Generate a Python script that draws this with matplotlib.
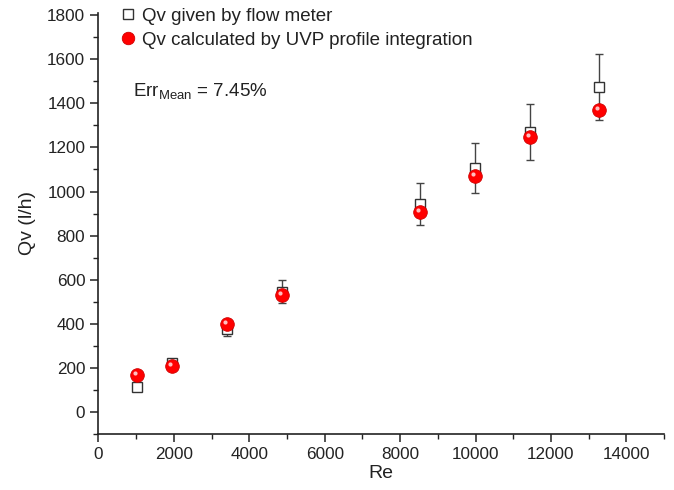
import matplotlib.pyplot as plt
import matplotlib.transforms as mtransforms
from matplotlib.lines import Line2D
from matplotlib.ticker import MultipleLocator

plt.rcParams['font.family'] = ['Liberation Sans', 'DejaVu Sans']
plt.rcParams['mathtext.fontset'] = 'custom'
plt.rcParams['mathtext.rm'] = 'Liberation Sans'

# Reynolds numbers of the runs
re_values = [1015, 1945, 3400, 4865, 8515, 9975, 11435, 13280]
# Qv given by flow meter (l/h) and its error
qv_meter = [114, 224, 376, 546, 945, 1106, 1272, 1474]
qv_meter_err = [15, 12, 33, 52, 95, 112, 127, 148]
# Qv calculated by UVP profile integration (l/h)
qv_uvp = [166, 209, 400, 530, 906, 1071, 1247, 1370]

fig = plt.figure(figsize=(6.74, 4.9), dpi=100)
ax = fig.add_axes([0.1461, 0.1143, 0.8391, 0.8592])

# flow meter: open squares with error bars
ax.errorbar(re_values, qv_meter, yerr=qv_meter_err, fmt='s', color='#444444',
            markerfacecolor='white', markeredgecolor='#333333', markersize=7.5,
            markeredgewidth=1.0, elinewidth=1.0, capsize=3, capthick=1.0,
            zorder=3)

# UVP: red "spheres" (red disc + small highlight)
ax.plot(re_values, qv_uvp, 'o', color='#ff0000', markeredgecolor='#d00000',
        markersize=9.8, markeredgewidth=0.6, zorder=4)
shift = mtransforms.ScaledTranslation(-2 / 100, 2 / 100, fig.dpi_scale_trans)
ax.plot(re_values, qv_uvp, 'o', color='white', markersize=3, alpha=0.75,
        markeredgewidth=0, zorder=5, transform=ax.transData + shift)

ax.set_xlim(0, 15000)
ax.set_ylim(-100, 1810)
ax.xaxis.set_major_locator(MultipleLocator(2000))
ax.xaxis.set_minor_locator(MultipleLocator(1000))
ax.yaxis.set_minor_locator(MultipleLocator(100))
ax.set_yticks(range(0, 1801, 200))

for side in ['top', 'right']:
    ax.spines[side].set_visible(False)
for side in ['left', 'bottom']:
    ax.spines[side].set_linewidth(1.2)
    ax.spines[side].set_color('#222222')

ax.tick_params(which='major', direction='out', length=6, width=1.1,
               labelsize=12.3, colors='#222222', labelcolor='#222222')
ax.tick_params(which='minor', direction='out', length=3.5, width=1.0,
               colors='#222222')

ax.set_xlabel('Re', fontsize=14, color='#222222', labelpad=2)
ax.set_ylabel('Qv (l/h)', fontsize=14, color='#222222', labelpad=8)

fig.text(0.197, 0.812, r'Err$_{\mathregular{Mean}}$ = 7.45%',
         fontsize=13.5, color='#222222', va='center', ha='left')

handles = [
    Line2D([], [], ls='none', marker='s', markersize=7, markerfacecolor='white',
           markeredgecolor='#333333', markeredgewidth=1.0),
    Line2D([], [], ls='none', marker='o', markersize=9, color='#ff0000',
           markeredgecolor='#d00000', markeredgewidth=0.6),
]
labels = ['Qv given by flow meter', 'Qv calculated by UVP profile integration']
leg = fig.legend(handles, labels, loc='upper left', bbox_to_anchor=(0.172, 0.984),
                 frameon=False, fontsize=13.5, handletextpad=0.1, handlelength=1.3,
                 labelspacing=0.36, borderpad=0, borderaxespad=0)
for t in leg.get_texts():
    t.set_color('#222222')

fig.savefig('out.png', dpi=100)
